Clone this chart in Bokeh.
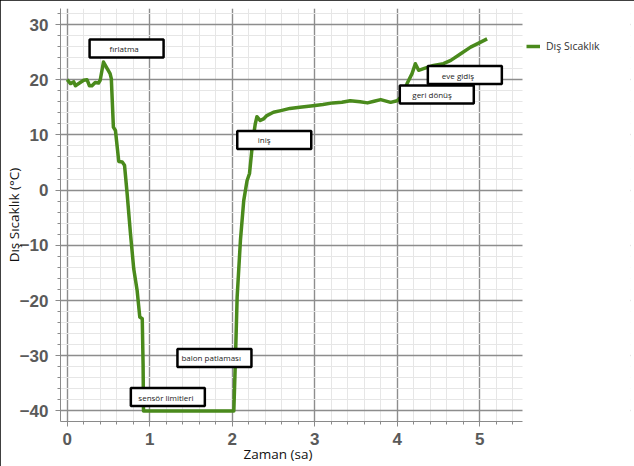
from bokeh.plotting import figure
from bokeh.models import (Range1d, SingleIntervalTicker, Legend, LegendItem, ColumnDataSource,
                          BoxAnnotation, Title)
from bokeh.core.properties import value
from bokeh.embed import file_html
from bokeh.resources import INLINE

# --- data (time in hours, outside temperature in °C) ---
time_h = [0.00, 0.04, 0.08, 0.10, 0.14, 0.20, 0.24, 0.27, 0.30, 0.34, 0.38, 0.40,
          0.44, 0.485, 0.52, 0.535, 0.56, 0.585, 0.625, 0.667, 0.695, 0.727, 0.767,
          0.807, 0.848, 0.88, 0.91, 0.92, 0.925, 2.02, 2.04, 2.06, 2.10, 2.14, 2.18,
          2.21, 2.25, 2.28, 2.30, 2.34, 2.38, 2.42, 2.50, 2.59, 2.70, 2.82, 2.98, 3.10,
          3.22, 3.33, 3.43, 3.55, 3.64, 3.72, 3.80, 3.92, 4.00, 4.06, 4.12, 4.18, 4.22,
          4.26, 4.32, 4.44, 4.56, 4.65, 4.77, 4.89, 4.97, 5.09]
temp_c = [20.0, 19.3, 19.6, 18.9, 19.3, 19.9, 20.0, 18.9, 18.9, 19.5, 19.4, 19.9,
          23.2, 22.0, 21.1, 20.2, 11.4, 10.8, 5.2, 5.1, 4.5, -0.7, -7.9,
          -14.3, -18.2, -23.0, -23.3, -31.5, -40.0, -40.0, -30.3, -19.4, -9.1, -1.9, 1.7,
          3.0, 9.0, 12.0, 13.3, 12.6, 12.9, 13.5, 14.1, 14.4, 14.8, 15.0, 15.3, 15.5,
          15.8, 15.9, 16.2, 16.0, 15.8, 16.1, 16.4, 15.9, 16.2, 17.1, 19.3, 21.1, 22.9,
          21.7, 22.0, 22.6, 22.9, 23.5, 24.7, 25.9, 26.5, 27.4]
series_name = "Dış Sıcaklık"
x_label = "Zaman (sa)"
y_label = "Dış Sıcaklık (°C)"

# annotation callouts
ann_labels = ["fırlatma", "iniş", "eve gidiş", "geri dönüş", "balon patlaması", "sensör limitleri"]
ann_x = [0.72, 2.51, 4.82, 4.48, 1.785, 1.22]
ann_y = [25.65, 9.08, 20.85, 17.32, -30.4, -37.5]
ann_dx = [-17, -16.5, -23, -24.5, -33, -29.5]

X_MIN, X_MAX = -0.081, 5.519   # extent of the drawn axis / grid
p = figure(width=634, height=466, output_backend="svg", toolbar_location=None,
           x_range=Range1d(X_MIN, 6.828), y_range=Range1d(-41.92, 32.9),
           min_border_left=60, min_border_right=4, min_border_top=8, min_border_bottom=45,
           y_axis_label=y_label)
p.outline_line_color = None
p.background_fill_color = "white"
p.border_fill_color = "white"
p.styles = {"outline": "2px solid black", "outline-offset": "-2px"}

p.xaxis.ticker = SingleIntervalTicker(interval=1, num_minor_ticks=5)
p.yaxis.ticker = SingleIntervalTicker(interval=10, num_minor_ticks=5)
p.xgrid.ticker = p.xaxis.ticker
p.ygrid.ticker = p.yaxis.ticker
p.xaxis.bounds = (X_MIN, X_MAX)

for g in (p.xgrid[0], p.ygrid[0]):
    g.grid_line_color = "#8d8d8d"
    g.grid_line_width = 1.4
    g.minor_grid_line_color = "#e6e6e6"
    g.minor_grid_line_width = 1

for ax in (p.xaxis[0], p.yaxis[0]):
    ax.axis_line_color = "#8a8a8a"
    ax.major_tick_line_color = "#8a8a8a"
    ax.minor_tick_line_color = "#8a8a8a"
    ax.major_tick_in = 0
    ax.major_tick_out = 5
    ax.minor_tick_in = 0
    ax.minor_tick_out = 3
    ax.major_label_text_font = "Liberation Sans"
    ax.major_label_text_font_size = "17px"
    ax.major_label_text_font_style = "bold"
    ax.major_label_text_color = "#5a5a5a"
    ax.axis_label_text_font = "Open Sans"
    ax.axis_label_text_font_size = "13.5px"
    ax.axis_label_text_font_style = "normal"
    ax.axis_label_text_color = "#111111"
p.xaxis.major_label_standoff = 6
p.yaxis.major_label_standoff = 7
p.yaxis.axis_label_standoff = -6

p.add_layout(Title(text=x_label, align="left", offset=183, standoff=-10,
                   text_font="Open Sans", text_font_size="13.5px", text_font_style="normal",
                   text_color="#111111"), "below")

# blank out the area right of the chart (legend area)
p.add_layout(BoxAnnotation(left=X_MAX, fill_color="white", fill_alpha=1.0,
                           line_color=None, level="glyph"))

src = ColumnDataSource(dict(t=time_h, v=temp_c))
r = p.line("t", "v", source=src, line_color="#4a8a1c", line_width=3.5, line_join="round")

asrc = ColumnDataSource(dict(x=ann_x, y=ann_y, label=ann_labels, dx=ann_dx))
p.rect("x", "y", width=74, height=18, width_units="screen", height_units="screen",
       source=asrc, fill_color="white", line_color="black", line_width=2.5)
p.text("x", "y", text="label", x_offset="dx", source=asrc, text_align="left",
       text_baseline="middle", text_font=value("Open Sans"), text_font_size="8px",
       text_color="#222222")

legend = Legend(items=[LegendItem(label=series_name, renderers=[r])], location=(466, 368),
                padding=0, margin=0, spacing=0, glyph_width=14, glyph_height=12,
                label_height=12, label_standoff=6, label_text_font="Open Sans",
                label_text_font_size="10.5px", label_text_color="#333333",
                border_line_color=None, background_fill_alpha=0)
p.add_layout(legend)

open("out.html", "w").write(file_html(p, INLINE))
